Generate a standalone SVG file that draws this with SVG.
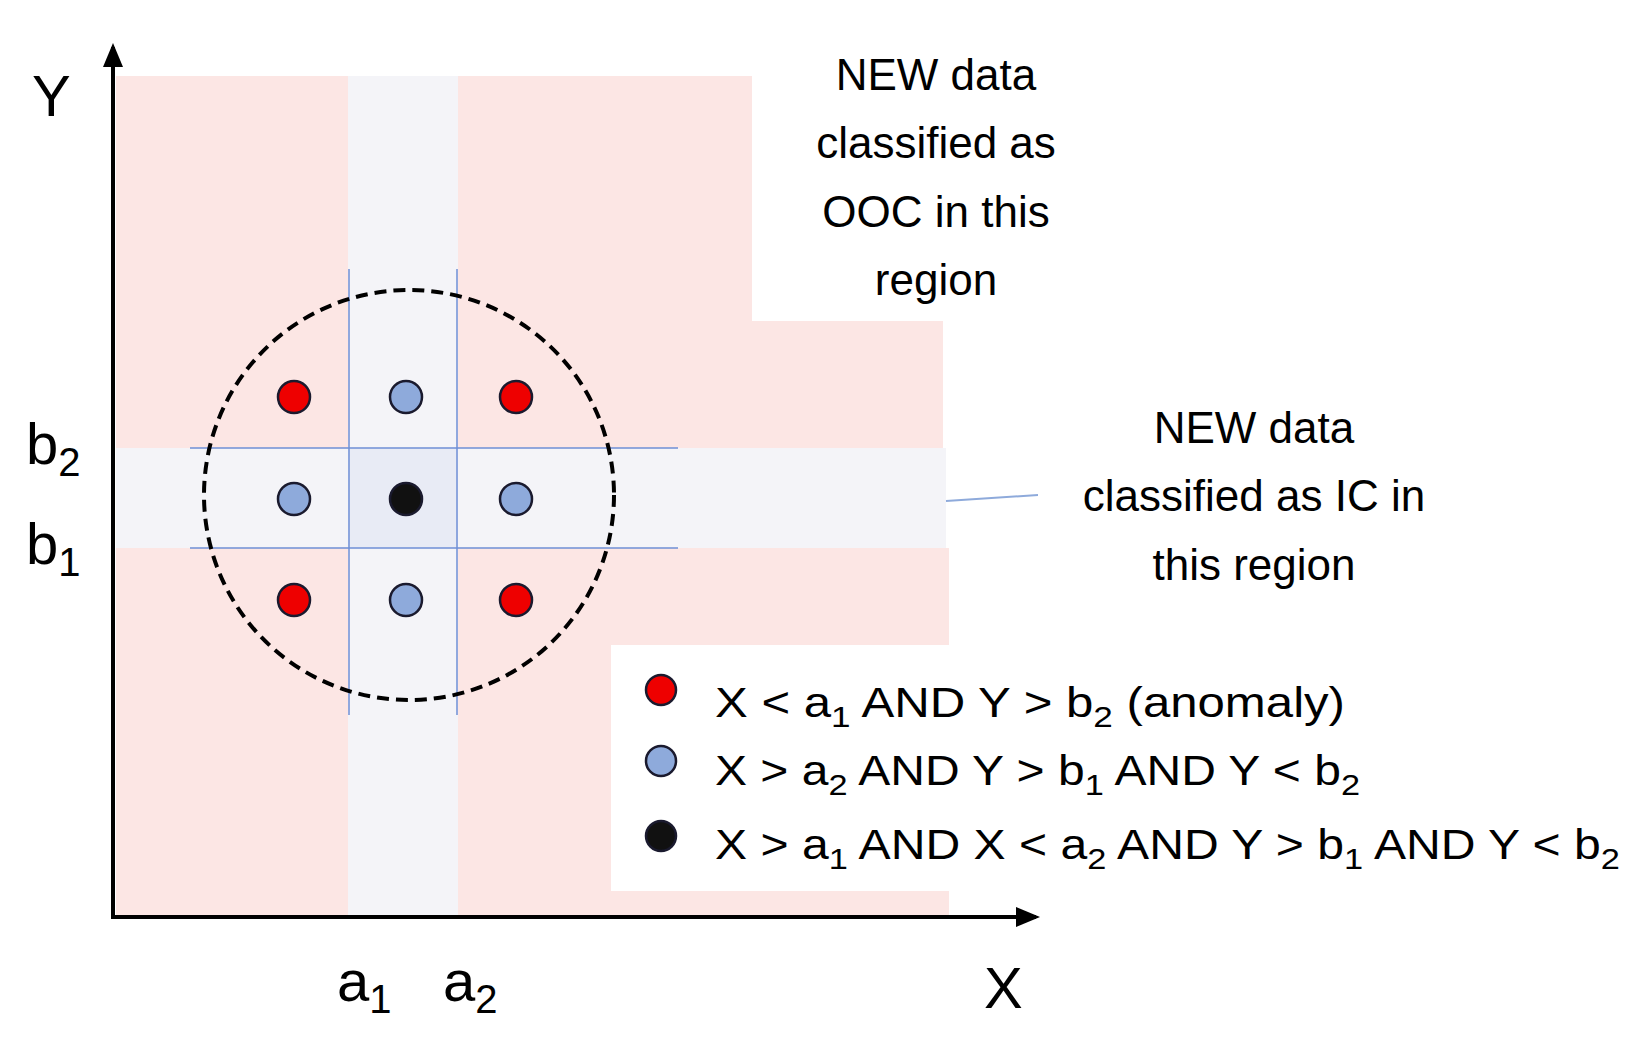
<svg xmlns="http://www.w3.org/2000/svg" width="1644" height="1052" viewBox="0 0 1644 1052">
<style>
text{font-family:"Liberation Sans",Arial,sans-serif;fill:#000}
.t{font-size:44px;text-anchor:middle}
.l{font-size:42px}
.ax{font-size:58px}
.red{fill:#ee0000;stroke:#1a1a2e;stroke-width:2.5}
.blue{fill:#8eaadb;stroke:#1a1a2e;stroke-width:2.5}
.blk{fill:#111;stroke:#1a1a2e;stroke-width:2.5}
.bl{stroke:#6f8fd6;stroke-width:1.5}
</style>
<defs><marker id="ah" markerWidth="6" markerHeight="6" refX="5" refY="3" orient="auto" markerUnits="strokeWidth"><path d="M0,0.5 L6,3 L0,5.5 Z" fill="#000"/></marker></defs>
<rect width="1644" height="1052" fill="#fff"/>
<g id="regions">
<path d="M116,76 H752 V321 H943 V448 H116 Z" fill="#fce6e4"/>
<path d="M116,548 H949 V645 H611 V891 H949 V915 H116 Z" fill="#fce6e4"/>
<rect x="348" y="76" width="110" height="839" fill="#f4f4f8"/>
<rect x="116" y="448" width="830" height="100" fill="#f4f4f8"/>
<rect x="348" y="448" width="110" height="100" fill="#e8ebf5"/>
</g>
<g id="connectors">
<line class="bl" x1="349" y1="269" x2="349" y2="715"/>
<line class="bl" x1="457" y1="269" x2="457" y2="715"/>
<line class="bl" x1="190" y1="448" x2="678" y2="448"/>
<line class="bl" x1="190" y1="548" x2="678" y2="548"/>
<line x1="946" y1="501" x2="1038" y2="495" stroke="#8eaadb" stroke-width="2"/>
<line x1="113" y1="919" x2="113" y2="47" stroke="#000" stroke-width="4" marker-end="url(#ah)"/>
<line x1="111" y1="917" x2="1036" y2="917" stroke="#000" stroke-width="4" marker-end="url(#ah)"/>
</g>
<g id="circle"><circle cx="409" cy="495" r="205" fill="none" stroke="#000" stroke-width="4" stroke-dasharray="12,7"/></g>
<g id="dots">
<circle class="red" cx="294" cy="397" r="16"/><circle class="blue" cx="406" cy="397" r="16"/><circle class="red" cx="516" cy="397" r="16"/>
<circle class="blue" cx="294" cy="499" r="16"/><circle class="blk" cx="406" cy="499" r="16"/><circle class="blue" cx="516" cy="499" r="16"/>
<circle class="red" cx="294" cy="600" r="16"/><circle class="blue" cx="406" cy="600" r="16"/><circle class="red" cx="516" cy="600" r="16"/>
</g>
<g id="label-ooc">
<text class="t" x="936" y="90">NEW data</text>
<text class="t" x="936" y="158">classified as</text>
<text class="t" x="936" y="227">OOC in this</text>
<text class="t" x="936" y="295">region</text>
</g>
<g id="label-ic">
<text class="t" x="1254" y="443">NEW data</text>
<text class="t" x="1254" y="511">classified as IC in</text>
<text class="t" x="1254" y="580">this region</text>
</g>
<g id="legend">
<circle class="red" cx="661" cy="690" r="15"/>
<circle class="blue" cx="661" cy="761" r="15"/>
<circle class="blk" cx="661" cy="836" r="15"/>
<text class="l" x="715" y="717" textLength="630" lengthAdjust="spacingAndGlyphs">X &lt; a<tspan font-size="30" dy="10">1</tspan><tspan dy="-10"> AND Y &gt; b</tspan><tspan font-size="30" dy="10">2</tspan><tspan dy="-10"> (anomaly)</tspan></text>
<text class="l" x="715" y="785" textLength="645" lengthAdjust="spacingAndGlyphs">X &gt; a<tspan font-size="30" dy="10">2</tspan><tspan dy="-10"> AND Y &gt; b</tspan><tspan font-size="30" dy="10">1</tspan><tspan dy="-10"> AND Y &lt; b</tspan><tspan font-size="30" dy="10">2</tspan></text>
<text class="l" x="715" y="859" textLength="905" lengthAdjust="spacingAndGlyphs">X &gt; a<tspan font-size="30" dy="10">1</tspan><tspan dy="-10"> AND X &lt; a</tspan><tspan font-size="30" dy="10">2</tspan><tspan dy="-10"> AND Y &gt; b</tspan><tspan font-size="30" dy="10">1</tspan><tspan dy="-10"> AND Y &lt; b</tspan><tspan font-size="30" dy="10">2</tspan></text>
</g>
<g id="axis-labels">
<text class="ax" x="32" y="116">Y</text>
<text class="ax" x="984" y="1008">X</text>
<text class="ax" x="26" y="464">b<tspan font-size="40" dy="12">2</tspan></text>
<text class="ax" x="26" y="564">b<tspan font-size="40" dy="12">1</tspan></text>
<text class="ax" x="337" y="1001">a<tspan font-size="40" dy="12">1</tspan></text>
<text class="ax" x="443" y="1001">a<tspan font-size="40" dy="12">2</tspan></text>
</g>
</svg>
